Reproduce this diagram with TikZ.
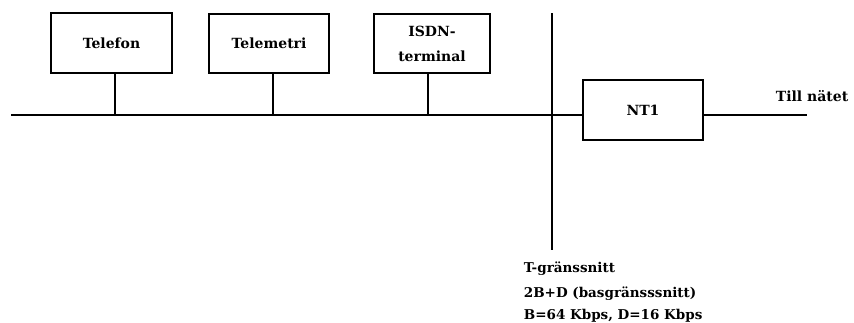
\documentclass[tikz,border=0pt]{standalone}
\usepackage{fontspec}
\setmainfont{DejaVu Serif}
\begin{document}
\begin{tikzpicture}[x=1pt,y=-1pt,line width=1.8pt,
  box/.style={draw,line width=1.8pt,inner sep=0pt,font=\bfseries\fontsize{14}{25}\selectfont,align=center},
  lbl/.style={font=\bfseries\fontsize{13.5}{16}\selectfont,inner sep=0pt}]
\useasboundingbox (0,0) rectangle (854,322);
\node[box,minimum width=121pt,minimum height=60pt] (tel) at (111.5,43) {Telefon};
\node[box,minimum width=120pt,minimum height=59pt] (tm) at (269,43.5) {Telemetri};
\node[box,minimum width=116pt,minimum height=59pt] (isdn) at (432,43.5) {ISDN-\\terminal};
\node[box,minimum width=120pt,minimum height=60pt] (nt) at (643,110) {NT1};
\coordinate (busL) at (11,115);
\coordinate (tTop) at (552,13);
\coordinate (tBot) at (552,250);
\coordinate (netEnd) at (807,115);
\draw (busL) -- (nt.west |- busL);
\draw (tel.south -| 115,0) -- (115,115);
\draw (tm.south -| 273,0) -- (273,115);
\draw (isdn.south -| 428,0) -- (428,115);
\draw (tTop) -- (tBot);
\draw (nt.east |- netEnd) -- (netEnd);
\node[lbl,anchor=base west,font=\bfseries\fontsize{14}{16}\selectfont] (till) at (775,101) {Till nätet};
\node[lbl,anchor=base west] (t1) at (523,272) {T-gränssnitt};
\node[lbl,anchor=base west] (t2) at (523,297) {2B+D (basgränsssnitt)};
\node[lbl,anchor=base west] (t3) at (523,319) {B=64 Kbps, D=16 Kbps};
\end{tikzpicture}
\end{document}
